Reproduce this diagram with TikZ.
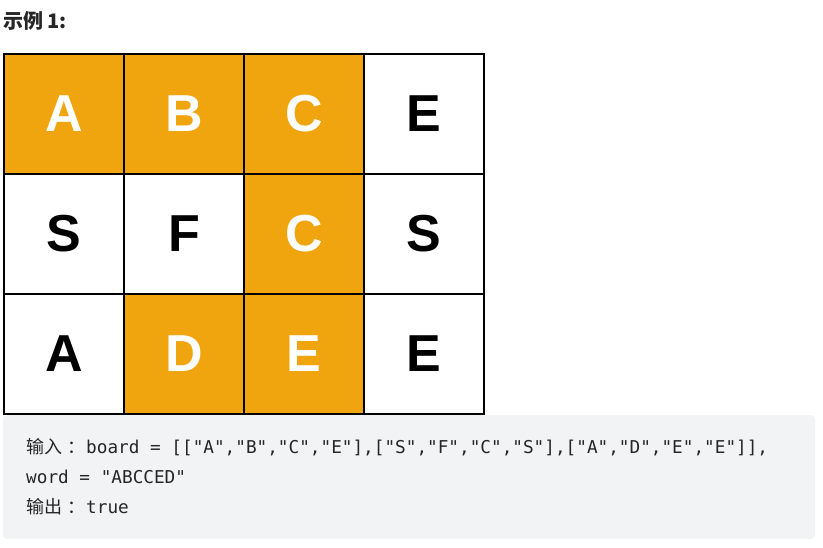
\documentclass[tikz,border=0pt]{standalone}
\usepackage{fontspec}
\newfontfamily\cjk{Noto Sans CJK SC}
\newfontfamily\gridfont{Liberation Sans}
\newfontfamily\codefont{DejaVu Sans Mono}
\definecolor{pathorange}{RGB}{240,164,14}
\definecolor{codebg}{RGB}{242,243,245}
\definecolor{codetext}{RGB}{38,38,38}
\newcommand\cjklabel[1]{\makebox[60pt][l]{\cjk\fontsize{18}{18}\selectfont #1\hspace{5pt}：}}

\begin{document}
\begin{tikzpicture}
  [x=1pt, y=-1pt,
   cell/.style={draw=black, line width=2.2pt, minimum size=120pt, inner sep=0pt,
     font=\gridfont\bfseries\fontsize{52}{52}\selectfont},
   hit/.style={cell, fill=pathorange, text=white},
   miss/.style={cell, fill=white, text=black},
   codeline/.style={anchor=base west, inner sep=0pt, text=codetext,
     font=\codefont\fontsize{17.7}{17.7}\selectfont}]
  \useasboundingbox (0,0) rectangle (823,547);
  \node[anchor=base west, inner sep=0pt, text=codetext,
    font=\cjk\bfseries\fontsize{20}{20}\selectfont] (title) at (3,28) {示例 1:};
  % code block background
  \fill[codebg, rounded corners=4pt] (3,415) rectangle (815,539);
  % board
  \foreach \r/\c/\letter/\kind in {0/0/A/hit, 0/1/B/hit, 0/2/C/hit, 0/3/E/miss,
                                   1/0/S/miss, 1/1/F/miss, 1/2/C/hit, 1/3/S/miss,
                                   2/0/A/miss, 2/1/D/hit, 2/2/E/hit, 2/3/E/miss}
    \node[\kind] (cell-\r-\c) at ({64+120*\c},{114+120*\r}) {\letter};
  % example text
  \node[codeline] (input) at (26,453)
    {\cjklabel{输入}board = [["A","B","C","E"],["S","F","C","S"],["A","D","E","E"]],};
  \node[codeline] (word) at (26,483) {word = "ABCCED"};
  \node[codeline] (output) at (26,513) {\cjklabel{输出}true};
\end{tikzpicture}
\end{document}
